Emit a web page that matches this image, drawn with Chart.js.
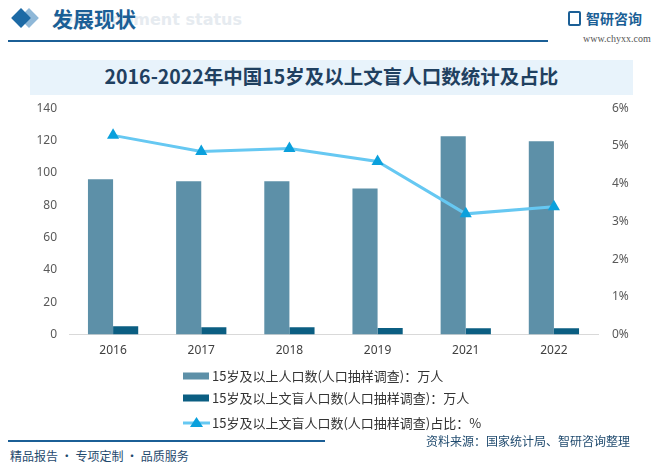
<!DOCTYPE html>
<html>
<head>
<meta charset="utf-8">
<script src="https://cdn.jsdelivr.net/npm/chart.js@4"></script>
<style>
  body { margin: 0; background: #fff; font-family: "Noto Sans CJK SC", "Noto Sans", sans-serif; }
  #page { position: relative; width: 664px; height: 467px; overflow: hidden; background: #fff; }
  .abs { position: absolute; white-space: nowrap; }
  #chartBox { position: absolute; left: 0; top: 87px; width: 664px; height: 353px; }
</style>
</head>
<body>
<div id="page">
  <!-- header -->
  <div class="abs" style="left:60px;top:10px;font-size:16px;font-weight:bold;color:#e6ebf0;font-family:'DejaVu Sans',sans-serif;">Development status</div>
  <div class="abs" style="left:22px;top:11px;width:14px;height:14px;background:#8fb8d8;transform:rotate(45deg);"></div>
  <div class="abs" style="left:14px;top:11px;width:14px;height:14px;background:#1d6aa5;transform:rotate(45deg);"></div>
  <div class="abs" style="left:52px;top:3px;font-size:21px;font-weight:bold;color:#1b5f96;">发展现状</div>
  <div class="abs" style="left:8px;top:40px;width:540px;height:2px;background:#1b5f96;"></div>
  <div class="abs" style="left:568px;top:11px;width:13px;height:15px;border:2px solid #1b5f96;box-sizing:border-box;border-radius:2px;"></div>
  <div class="abs" style="left:586px;top:8px;font-size:14px;color:#1b5f96;font-weight:bold;">智研咨询</div>
  <div class="abs" style="left:583px;top:33px;font-size:10px;color:#555;font-family:'Liberation Serif',serif;">www.chyxx.com</div>

  <!-- title -->
  <div class="abs" style="left:30px;top:60px;width:603px;height:35px;background:#e8f3fb;"></div>
  <div class="abs" style="left:30px;top:61px;width:603px;text-align:center;font-size:19.5px;font-weight:bold;color:#1f4060;">2016-2022年中国15岁及以上文盲人口数统计及占比</div>

  <div id="chartBox"><canvas id="chart"></canvas></div>

  <!-- footer -->
  <div class="abs" style="left:8px;top:440px;width:317px;height:2px;background:#1b5f96;"></div>
  <div class="abs" style="left:426px;top:432px;font-size:12px;color:#1f4a6e;">资料来源：国家统计局、智研咨询整理</div>
  <div class="abs" style="left:10px;top:447px;font-size:12px;color:#1f4a6e;">精品报告 · 专项定制 · 品质服务</div>
</div>

<script>
// categories and values
const years = ['2016', '2017', '2018', '2019', '2021', '2022'];
const population15 = [96.0, 94.8, 94.8, 90.4, 122.6, 119.6];
const illiterate15 = [5.1, 4.6, 4.6, 4.1, 3.9, 4.0];
const illiterateShare = [5.28, 4.85, 4.93, 4.59, 3.20, 3.39];
const leftTicks = [0, 20, 40, 60, 80, 100, 120, 140];
const rightTicks = [0, 1, 2, 3, 4, 5, 6];

const labelNames = [
    '15岁及以上人口数(人口抽样调查)：万人',
    '15岁及以上文盲人口数(人口抽样调查)：万人',
    '15岁及以上文盲人口数(人口抽样调查)占比：%'
];

// legend drawn as a vertical list under the plot
const listLegend = {
    id: 'listLegend',
    afterDraw(chart) {
        const ctx = chart.ctx;
        const rows = [289, 311, 336];
        const x0 = 183;
        ctx.save();
        ctx.font = '13px "Noto Sans CJK SC", sans-serif';
        ctx.textBaseline = 'middle';
        chart.data.datasets.forEach((ds, i) => {
            const y = rows[i];
            if (ds.type === 'line') {
                ctx.strokeStyle = ds.borderColor;
                ctx.lineWidth = 3;
                ctx.beginPath();
                ctx.moveTo(x0, y);
                ctx.lineTo(x0 + 27, y);
                ctx.stroke();
                ctx.fillStyle = ds.pointBackgroundColor;
                ctx.beginPath();
                ctx.moveTo(x0 + 13.5, y - 6);
                ctx.lineTo(x0 + 20, y + 4);
                ctx.lineTo(x0 + 7, y + 4);
                ctx.closePath();
                ctx.fill();
            } else {
                ctx.fillStyle = ds.backgroundColor;
                ctx.fillRect(x0, y - 3.5, 26, 7);
            }
            ctx.fillStyle = '#333';
            ctx.fillText(ds.label, x0 + 29, y);
        });
        ctx.restore();
    }
};

const ctx = document.getElementById('chart').getContext('2d');
new Chart(ctx, {
    type: 'bar',
    data: {
        labels: years,
        datasets: [
            {
                label: labelNames[0],
                data: population15,
                backgroundColor: '#5d90a8',
                yAxisID: 'y',
                order: 2
            },
            {
                label: labelNames[1],
                data: illiterate15,
                backgroundColor: '#0b5e82',
                yAxisID: 'y',
                order: 2
            },
            {
                type: 'line',
                label: labelNames[2],
                data: illiterateShare,
                borderColor: '#66c8f2',
                borderWidth: 3,
                pointStyle: 'triangle',
                pointRadius: 7,
                pointBackgroundColor: '#0aa0dc',
                pointBorderColor: '#0aa0dc',
                pointBorderWidth: 0,
                tension: 0,
                yAxisID: 'y1',
                order: 1
            }
        ]
    },
    options: {
        responsive: true,
        maintainAspectRatio: false,
        animation: false,
        layout: { padding: { top: 0, bottom: 73, left: 0, right: 0 } },
        datasets: {
            bar: { categoryPercentage: 0.57, barPercentage: 1.0 }
        },
        plugins: {
            legend: { display: false },
            tooltip: { enabled: false }
        },
        scales: {
            x: {
                grid: { display: false, drawTicks: false },
                border: { display: true, color: '#d9d9d9', width: 1 },
                ticks: {
                    color: '#404040',
                    font: { size: 12, family: '"Noto Sans", sans-serif' },
                    padding: 9
                }
            },
            y: {
                position: 'left',
                min: 0,
                max: 140,
                afterBuildTicks: (scale) => { scale.ticks = leftTicks.map(v => ({ value: v })); },
                grid: { display: false, drawTicks: false },
                border: { display: false },
                ticks: {
                    color: '#595959',
                    font: { size: 12, family: '"Noto Sans", sans-serif' },
                    padding: 12
                },
                afterFit: (scale) => { scale.width = 69; }
            },
            y1: {
                position: 'right',
                min: 0,
                max: 6,
                afterBuildTicks: (scale) => { scale.ticks = rightTicks.map(v => ({ value: v })); },
                grid: { display: false, drawTicks: false },
                border: { display: false },
                ticks: {
                    color: '#595959',
                    font: { size: 12, family: '"Noto Sans", sans-serif' },
                    padding: 14,
                    callback: (v) => v + '%'
                },
                afterFit: (scale) => { scale.width = 66; }
            }
        }
    },
    plugins: [listLegend]
});
</script>
</body>
</html>
